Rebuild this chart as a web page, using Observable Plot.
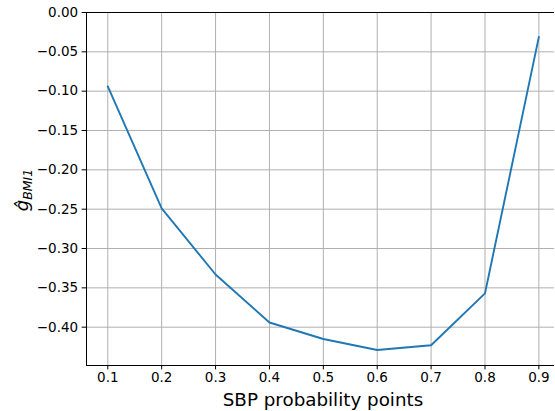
<!DOCTYPE html>
<html><head><meta charset="utf-8">
<script src="https://cdn.jsdelivr.net/npm/d3@7"></script>
<script src="https://cdn.jsdelivr.net/npm/@observablehq/plot@0.6"></script>
<style>
body{margin:0;background:#fff;}
svg{font-family:"DejaVu Sans",sans-serif;}
</style></head>
<body><div id="chart"></div>
<script>
const probs = [0.1, 0.2, 0.3, 0.4, 0.5, 0.6, 0.7, 0.8, 0.9];
const gBMI1 = [-0.094, -0.249, -0.333, -0.394, -0.415, -0.429, -0.423, -0.357, -0.031];
const xTicks = [0.1, 0.2, 0.3, 0.4, 0.5, 0.6, 0.7, 0.8, 0.9];
const yTicks = [0.00, -0.05, -0.10, -0.15, -0.20, -0.25, -0.30, -0.35, -0.40];
const xLabel = "SBP probability points";

const data = probs.map((p, i) => ({p, g: gBMI1[i]}));
const xDom = [0.0605, 0.929];
const yDom = [-0.4487, 0];

const chart = Plot.plot({
  width: 555, height: 411,
  marginLeft: 86, marginTop: 12, marginBottom: 46, marginRight: 1,
  style: {fontFamily: "DejaVu Sans", fontSize: "13.5px", color: "#000", background: "#fff"},
  x: {domain: xDom, label: null},
  y: {domain: yDom, label: null},
  marks: [
    Plot.gridX(xTicks, {stroke: "#b0b0b0", strokeOpacity: 1, strokeWidth: 1}),
    Plot.gridY(yTicks, {stroke: "#b0b0b0", strokeOpacity: 1, strokeWidth: 1}),
    Plot.line(data, {x: "p", y: "g", stroke: "#1f77b4", strokeWidth: 1.9}),
    Plot.ruleY([yDom[0]], {stroke: "#000", strokeWidth: 1}),
    Plot.ruleY([yDom[1]], {stroke: "#000", strokeWidth: 1}),
    Plot.ruleX([xDom[0]], {stroke: "#000", strokeWidth: 1}),
    Plot.axisX({ticks: xTicks, tickFormat: d3.format(".1f"), tickSize: 4.4, tickPadding: 3, label: null, fontSize: 13.5, stroke: "#000", strokeWidth: 1}),
    Plot.axisY({ticks: yTicks, tickFormat: d3.format(".2f"), tickSize: 4.4, tickPadding: 4, label: null, fontSize: 13.5, stroke: "#000", strokeWidth: 1})
  ]
});
document.getElementById("chart").appendChild(chart);

const svg = d3.select(chart);
// x-axis label
svg.append("text")
  .attr("x", 323).attr("y", 405.7)
  .attr("text-anchor", "middle")
  .attr("font-size", 18.3)
  .attr("font-family", "DejaVu Sans")
  .attr("fill", "#000")
  .text(xLabel);
// y-axis label with hat and subscript
const t = svg.append("text")
  .attr("transform", "translate(28,190) rotate(-90)")
  .attr("text-anchor", "middle")
  .attr("font-size", 18)
  .attr("font-family", "DejaVu Sans")
  .attr("fill", "#000");
t.append("tspan").attr("font-style", "italic").text("\u011D");
t.append("tspan").attr("font-style", "italic").attr("font-size", 12.5).attr("dy", 3.5).text("BMI1");
</script></body></html>
